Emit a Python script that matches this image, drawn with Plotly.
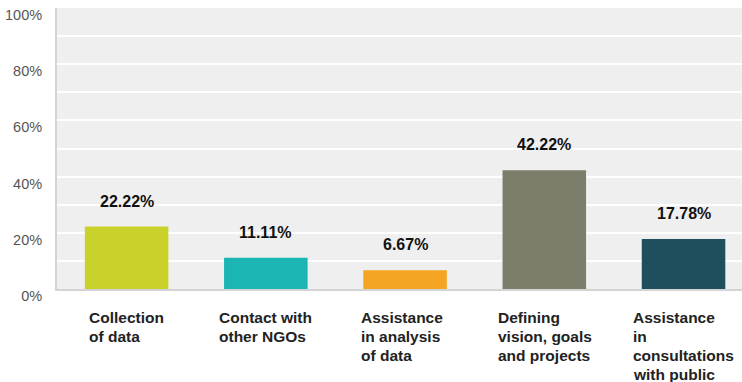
import plotly.graph_objects as go

categories = [
    "Collection<br>of data",
    "Contact with<br>other NGOs",
    "Assistance<br>in analysis<br>of data",
    "Defining<br>vision, goals<br>and projects",
    "Assistance<br>in<br>consultations<br>with public",
]
shares = [22.22, 11.11, 6.67, 42.22, 17.78]
bar_colors = ["#c9d12b", "#1bb5b4", "#f4a521", "#7c7e6b", "#1f4e5d"]
tick_values = [0, 20, 40, 60, 80, 100]
tick_labels = ["0%", "20%", "40%", "60%", "80%", "100%"]

BAR_WIDTH = 0.6
# horizontal start of each category caption, relative to the bar centre
CAPTION_OFFSETS = [-0.285, -0.35, -0.33, -0.35, -0.38]
CAPTION_LINE_GAP = 19  # px between caption lines
x_pos = list(range(len(categories)))

fig = go.Figure(
    go.Bar(
        x=x_pos,
        y=shares,
        width=BAR_WIDTH,
        marker=dict(color=bar_colors, line=dict(width=0)),
        hoverinfo="skip",
    )
)

# value labels above each bar
for xi, v in zip(x_pos, shares):
    fig.add_annotation(
        x=xi, y=v, xref="x", yref="y",
        text=f"{v:.2f}%",
        showarrow=False, yanchor="bottom", yshift=15,
        font=dict(family="Liberation Sans, Arial", size=16, color="#111111", weight="bold"),
    )

# category captions, left-aligned under each bar, one line at a time
for xi, name, off in zip(x_pos, categories, CAPTION_OFFSETS):
    for k, line in enumerate(name.split("<br>")):
        fig.add_annotation(
            x=xi + off, y=0, xref="x", yref="paper",
            text=line, align="left",
            showarrow=False, xanchor="left", yanchor="top",
            yshift=-18 - CAPTION_LINE_GAP * k,
            font=dict(family="Liberation Sans, Arial", size=15.5, color="#222222", weight="bold"),
        )

fig.update_layout(
    width=742, height=382,
    margin=dict(l=57, r=0, t=8, b=93),
    paper_bgcolor="white",
    plot_bgcolor="#efefef",
    showlegend=False,
    xaxis=dict(
        range=[-0.5, 4.42],
        showticklabels=False,
        showgrid=False,
        zeroline=False,
        showline=True, linecolor="#d4d4d4", linewidth=2,
        fixedrange=True,
    ),
    yaxis=dict(
        range=[0, 100],
        tickvals=tick_values,
        ticktext=tick_labels,
        ticks="outside", ticklen=10, tickcolor="rgba(0,0,0,0)",
        ticklabelshift=7,
        tickfont=dict(family="Liberation Sans, Arial", size=14.5, color="#555555"),
        showgrid=True, gridcolor="white", gridwidth=2,
        minor=dict(dtick=10, showgrid=True, gridcolor="white", gridwidth=2),
        zeroline=False,
        showline=True, linecolor="#d4d4d4", linewidth=2,
        fixedrange=True,
    ),
)

fig.write_html("out.html")
